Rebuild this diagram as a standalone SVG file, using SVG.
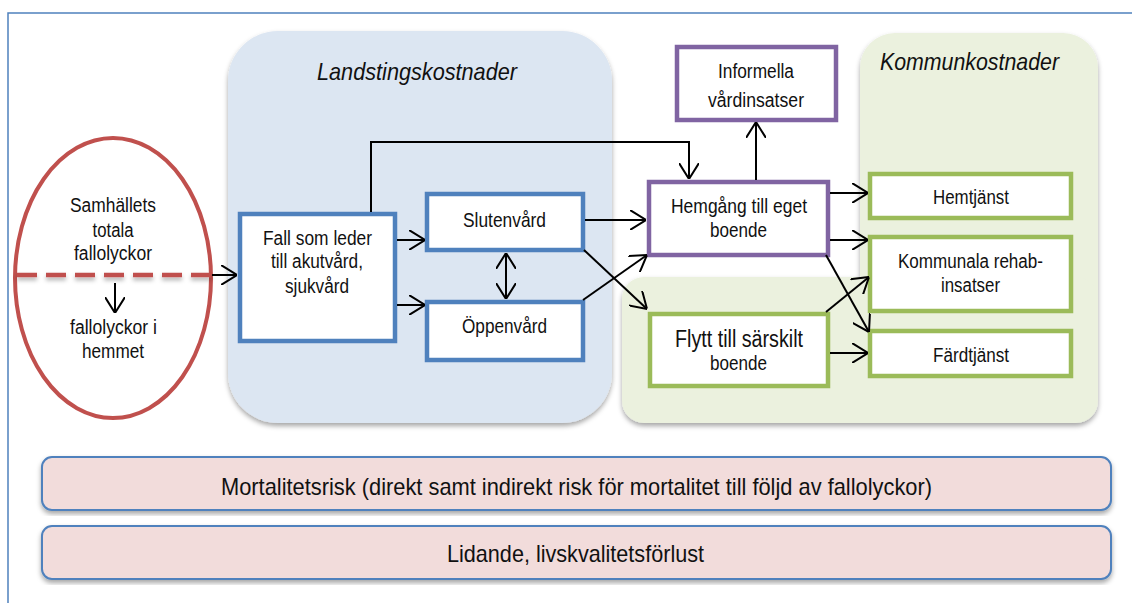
<svg xmlns="http://www.w3.org/2000/svg" width="1132" height="603" viewBox="0 0 1132 603">
<defs>
<style>
.t{font-family:"Liberation Sans",Arial,sans-serif;fill:#111;text-anchor:middle}
.h{font-style:italic}
.box{fill:#fff;stroke-width:4.5}
.blue{stroke:#4f81bd}
.purple{stroke:#8064a2}
.green{stroke:#9bbb59}
.bar{fill:#f2dcdb;stroke:#4f81bd;stroke-width:2}
.con{fill:none;stroke:#000;stroke-width:2;marker-end:url(#ah)}
</style>
<marker id="ah" viewBox="0 0 16 20" refX="16" refY="10" markerWidth="16" markerHeight="20" markerUnits="userSpaceOnUse" orient="auto">
<path d="M0,0 L16,10 L0,20" fill="none" stroke="#000" stroke-width="2"/>
</marker>
<marker id="as" viewBox="0 0 16 20" refX="0" refY="10" markerWidth="16" markerHeight="20" markerUnits="userSpaceOnUse" orient="auto">
<path d="M16,0 L0,10 L16,20" fill="none" stroke="#000" stroke-width="2"/>
</marker>
<filter id="sh" x="-5%" y="-5%" width="110%" height="115%">
<feDropShadow dx="0" dy="3" stdDeviation="2.5" flood-color="#000" flood-opacity="0.35"/>
</filter>
<filter id="shl" filterUnits="userSpaceOnUse" x="0" y="260" width="230" height="30">
<feDropShadow dx="0" dy="3" stdDeviation="2" flood-color="#000" flood-opacity="0.3"/>
</filter>
</defs>
<rect width="1132" height="603" fill="#fff"/>
<path d="M8,603 L8,13 L1132,13" fill="none" stroke="#4f81bd" stroke-width="1.5"/>

<g id="landsting">
<rect x="228" y="31" width="384" height="392" rx="50" fill="#dce6f2" filter="url(#sh)"/>
<text class="t h" x="417" y="80" font-size="24" textLength="200" lengthAdjust="spacingAndGlyphs">Landstingskostnader</text>
</g>
<g id="kommun">
<g filter="url(#sh)" fill="#ebf1de">
<rect x="860" y="33" width="238" height="390" rx="35"/>
<rect x="622" y="277" width="476" height="146" rx="22"/>
</g>
<text class="t h" x="969.5" y="70" font-size="24" textLength="179" lengthAdjust="spacingAndGlyphs">Kommunkostnader</text>
</g>

<g id="samhallet">
<ellipse cx="113" cy="278" rx="98" ry="140" fill="#fff" stroke="#c0504d" stroke-width="4"/>
<line x1="17" y1="275" x2="212" y2="275" stroke="#c0504d" stroke-width="4.5" stroke-dasharray="20 9" filter="url(#shl)"/>
<text class="t" x="113" y="212" font-size="20" textLength="86" lengthAdjust="spacingAndGlyphs">Samhällets</text>
<text class="t" x="113" y="237" font-size="20" textLength="41" lengthAdjust="spacingAndGlyphs">totala</text>
<text class="t" x="113" y="260" font-size="20" textLength="78" lengthAdjust="spacingAndGlyphs">fallolyckor</text>
<text class="t" x="113.5" y="334" font-size="20" textLength="87" lengthAdjust="spacingAndGlyphs">fallolyckor i</text>
<text class="t" x="113" y="358" font-size="20" textLength="62" lengthAdjust="spacingAndGlyphs">hemmet</text>
</g>

<g id="fall">
<rect class="box blue" x="240" y="214" width="155" height="127"/>
<text class="t" x="317.5" y="245" font-size="20" textLength="109" lengthAdjust="spacingAndGlyphs">Fall som leder</text>
<text class="t" x="317" y="268" font-size="20" textLength="92" lengthAdjust="spacingAndGlyphs">till akutvård,</text>
<text class="t" x="317" y="293" font-size="20" textLength="64" lengthAdjust="spacingAndGlyphs">sjukvård</text>
</g>
<g id="slutenvard">
<rect class="box blue" x="427" y="194" width="156" height="56"/>
<text class="t" x="504.5" y="227" font-size="21" textLength="83" lengthAdjust="spacingAndGlyphs">Slutenvård</text>
</g>
<g id="oppenvard">
<rect class="box blue" x="427" y="302" width="156" height="58"/>
<text class="t" x="504.5" y="333" font-size="21" textLength="85" lengthAdjust="spacingAndGlyphs">Öppenvård</text>
</g>
<g id="informella">
<rect class="box purple" x="677" y="47" width="159" height="73"/>
<text class="t" x="756" y="78" font-size="20" textLength="76" lengthAdjust="spacingAndGlyphs">Informella</text>
<text class="t" x="756" y="107" font-size="20" textLength="96" lengthAdjust="spacingAndGlyphs">vårdinsatser</text>
</g>
<g id="hemgang">
<rect class="box purple" x="649" y="182" width="179" height="73"/>
<text class="t" x="739" y="213" font-size="21" textLength="136" lengthAdjust="spacingAndGlyphs">Hemgång till eget</text>
<text class="t" x="738.5" y="237" font-size="21" textLength="57" lengthAdjust="spacingAndGlyphs">boende</text>
</g>
<g id="flytt">
<rect class="box green" x="650" y="314" width="178" height="72"/>
<text class="t" x="739" y="347" font-size="23" textLength="128" lengthAdjust="spacingAndGlyphs">Flytt till särskilt</text>
<text class="t" x="738.5" y="370" font-size="21" textLength="57" lengthAdjust="spacingAndGlyphs">boende</text>
</g>
<g id="hemtjanst">
<rect class="box green" x="870" y="174" width="201" height="44"/>
<text class="t" x="971" y="204" font-size="20" textLength="76" lengthAdjust="spacingAndGlyphs">Hemtjänst</text>
</g>
<g id="kommunala">
<rect class="box green" x="870" y="237" width="201" height="74"/>
<text class="t" x="970.5" y="268" font-size="20" textLength="145" lengthAdjust="spacingAndGlyphs">Kommunala rehab-</text>
<text class="t" x="970.5" y="292" font-size="20" textLength="59" lengthAdjust="spacingAndGlyphs">insatser</text>
</g>
<g id="fardtjanst">
<rect class="box green" x="870" y="331" width="201" height="45"/>
<text class="t" x="971" y="362" font-size="20" textLength="76" lengthAdjust="spacingAndGlyphs">Färdtjänst</text>
</g>

<g id="mortalitet">
<rect class="bar" x="42" y="457" width="1069" height="53" rx="10" filter="url(#sh)"/>
<text class="t" x="576.5" y="495" font-size="24" textLength="711" lengthAdjust="spacingAndGlyphs">Mortalitetsrisk (direkt samt indirekt risk för mortalitet till följd av fallolyckor)</text>
</g>
<g id="lidande">
<rect class="bar" x="42" y="526" width="1069" height="53" rx="10" filter="url(#sh)"/>
<text class="t" x="575.5" y="562" font-size="24" textLength="257" lengthAdjust="spacingAndGlyphs">Lidande, livskvalitetsförlust</text>
</g>

<g id="connectors">
<line class="con" x1="212" y1="275" x2="237" y2="275"/>
<line class="con" x1="115" y1="283" x2="115" y2="313"/>
<line class="con" x1="397" y1="240" x2="425" y2="240"/>
<line class="con" x1="397" y1="305" x2="425" y2="305"/>
<line class="con" x1="506" y1="253" x2="506" y2="299" marker-start="url(#as)"/>
<polyline class="con" points="371,212 371,142 689,142 689,179"/>
<line class="con" x1="585" y1="220" x2="646" y2="220"/>
<line class="con" x1="584" y1="250" x2="647" y2="309"/>
<line class="con" x1="583" y1="300" x2="647" y2="255"/>
<line class="con" x1="756" y1="180" x2="756" y2="122"/>
<line class="con" x1="830" y1="193" x2="868" y2="193"/>
<line class="con" x1="830" y1="240" x2="868" y2="240"/>
<line class="con" x1="826" y1="255" x2="869" y2="332"/>
<line class="con" x1="826" y1="312" x2="869" y2="277"/>
<line class="con" x1="830" y1="353" x2="868" y2="353"/>
</g>
</svg>
